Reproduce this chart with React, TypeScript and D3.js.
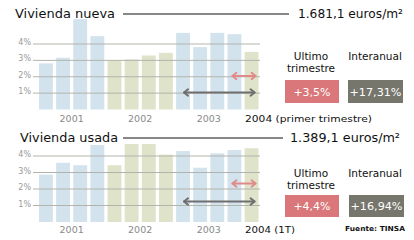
import React from "react";
import * as d3 from "d3";

const quarters = ["2001T1","2001T2","2001T3","2001T4","2002T1","2002T2","2002T3","2002T4","2003T1","2003T2","2003T3","2003T4","2004T1"];
const quarterYears = ["2001","2001","2001","2001","2002","2002","2002","2002","2003","2003","2003","2003","2004"];
const nuevaValues = [2.82, 3.16, 5.52, 4.48, 3.0, 3.06, 3.3, 3.46, 4.68, 3.81, 4.68, 4.6, 3.52];
const usadaValues = [2.87, 3.59, 3.44, 4.67, 3.44, 4.73, 4.73, 4.08, 4.3, 3.29, 4.16, 4.36, 4.47];
const yearLabels = ["2001", "2002", "2003"];
const tickValues = [1, 2, 3, 4];

const FONT = "'DejaVu Sans', sans-serif";
const BLUE = "#d3e3ed";
const GREEN = "#dfe3c9";
const GRID = "#b3b3ad";

const x = d3.scaleBand<string>().domain(quarters).range([39, 258.5]).paddingInner(0.19).paddingOuter(0);

type PanelProps = {
  values: number[];
  y0: number;
  y4: number;
  title: string;
  titleLen: number;
  titleX: number;
  titleY: number;
  lineEnd: number;
  price: string;
  priceX: number;
  priceLen: number;
  lastLabel: string;
  lastLabelLen: number;
  yearY: number;
  redY: number;
  grayY: number;
  headY: number;
  boxY: number;
  boxH: number;
  grayBoxX: number;
  redText: string;
  grayText: string;
};

function Arrow({ x1, x2, y, color, w }: { x1: number; x2: number; y: number; color: string; w: number }) {
  const h = 3.2;
  const a = 4;
  return (
    <g stroke={color} strokeWidth={w} fill="none" strokeLinecap="round" strokeLinejoin="round">
      <line x1={x1} y1={y} x2={x2} y2={y} />
      <path d={`M${x1 + a},${y - h} L${x1},${y} L${x1 + a},${y + h}`} />
      <path d={`M${x2 - a},${y - h} L${x2},${y} L${x2 - a},${y + h}`} />
    </g>
  );
}

function Panel(p: PanelProps) {
  const y = d3.scaleLinear().domain([0, 4]).range([p.y0, p.y4]);
  const bw = x.bandwidth();
  const yearCenter = (yr: string) => {
    const qs = quarters.filter((_, i) => quarterYears[i] === yr);
    return ((x(qs[0]) as number) + (x(qs[qs.length - 1]) as number) + bw) / 2;
  };
  const cx = (i: number) => (x(quarters[i]) as number) + bw / 2;
  const last = quarters.length - 1;
  return (
    <g>
      <text x={p.titleX} y={p.titleY} fontFamily={FONT} fontSize={13} fill="#111" textLength={p.titleLen} lengthAdjust="spacingAndGlyphs">{p.title}</text>
      <line x1={123} x2={p.lineEnd} y1={p.titleY - 4} y2={p.titleY - 4} stroke="#111" strokeWidth={1.2} />
      <text x={p.priceX} y={p.titleY} fontFamily={FONT} fontSize={12} fill="#111" textLength={p.priceLen} lengthAdjust="spacingAndGlyphs">{p.price}</text>
      {quarters.map((q, i) => (
        <rect key={q} x={x(q)} width={bw} y={y(p.values[i])} height={y(0) - y(p.values[i])}
          fill={quarterYears[i] === "2001" || quarterYears[i] === "2003" ? BLUE : GREEN} />
      ))}
      {tickValues.map((t) => (
        <g key={t}>
          <line x1={33} x2={260} y1={y(t)} y2={y(t)} stroke={GRID} strokeWidth={1} />
          <text x={31} y={y(t) + 1} fontFamily={FONT} fontSize={8} fill="#9a9a9a" textAnchor="end">{t}%</text>
        </g>
      ))}
      {yearLabels.map((yr) => (
        <text key={yr} x={yearCenter(yr)} y={p.yearY} fontFamily={FONT} fontSize={9.5} fill="#8a8a8a" textAnchor="middle">{yr}</text>
      ))}
      <text x={245} y={p.yearY} fontFamily={FONT} fontSize={9.5} fill="#111" textLength={p.lastLabelLen} lengthAdjust="spacingAndGlyphs">{p.lastLabel}</text>
      <Arrow x1={cx(last - 1) - 2} x2={cx(last) + 4} y={p.redY} color="#e08a8a" w={1.8} />
      <Arrow x1={cx(last - 4) + 1} x2={cx(last) + 3} y={p.grayY} color="#6f6f6f" w={2} />
      <text x={311} y={p.headY} fontFamily={FONT} fontSize={10.5} fill="#111" textAnchor="middle">Ultimo</text>
      <text x={311} y={p.headY + 12} fontFamily={FONT} fontSize={10.5} fill="#111" textAnchor="middle">trimestre</text>
      <text x={375} y={p.headY} fontFamily={FONT} fontSize={10.5} fill="#111" textAnchor="middle">Interanual</text>
      <rect x={285} y={p.boxY} width={54} height={p.boxH} fill="#d9777a" />
      <text x={312} y={p.boxY + p.boxH / 2 + 4} fontFamily={FONT} fontSize={11} fill="#fff" textAnchor="middle">{p.redText}</text>
      <rect x={p.grayBoxX} y={p.boxY} width={55} height={p.boxH} fill="#76766c" />
      <text x={p.grayBoxX + 27.5} y={p.boxY + p.boxH / 2 + 4} fontFamily={FONT} fontSize={11} fill="#fff" textAnchor="middle" textLength={52} lengthAdjust="spacingAndGlyphs">{p.grayText}</text>
    </g>
  );
}

export default function App() {
  return (
    <svg width={414} height={240} style={{ position: "absolute", left: 0, top: 0, background: "#fff" }}>
      <rect width={414} height={240} fill="#fff" />
      <Panel values={nuevaValues} y0={109.5} y4={44} title="Vivienda nueva" titleLen={100} titleX={15} titleY={18}
        lineEnd={289} price="1.681,1 euros/m²" priceX={298} priceLen={105}
        lastLabel="2004 (primer trimestre)" lastLabelLen={127} yearY={122}
        redY={76} grayY={92.5} headY={60} boxY={80} boxH={23} grayBoxX={348}
        redText="+3,5%" grayText="+17,31%" />
      <Panel values={usadaValues} y0={222} y4={156} title="Vivienda usada" titleLen={98} titleX={20} titleY={142}
        lineEnd={283} price="1.389,1 euros/m²" priceX={290} priceLen={110}
        lastLabel="2004 (1T)" lastLabelLen={50} yearY={233}
        redY={183.5} grayY={201.5} headY={177} boxY={195} boxH={22} grayBoxX={349}
        redText="+4,4%" grayText="+16,94%" />
      <text x={345} y={231} fontFamily={FONT} fontSize={7} fontWeight="bold" fill="#111" textLength={60} lengthAdjust="spacingAndGlyphs">Fuente: TINSA</text>
    </svg>
  );
}
